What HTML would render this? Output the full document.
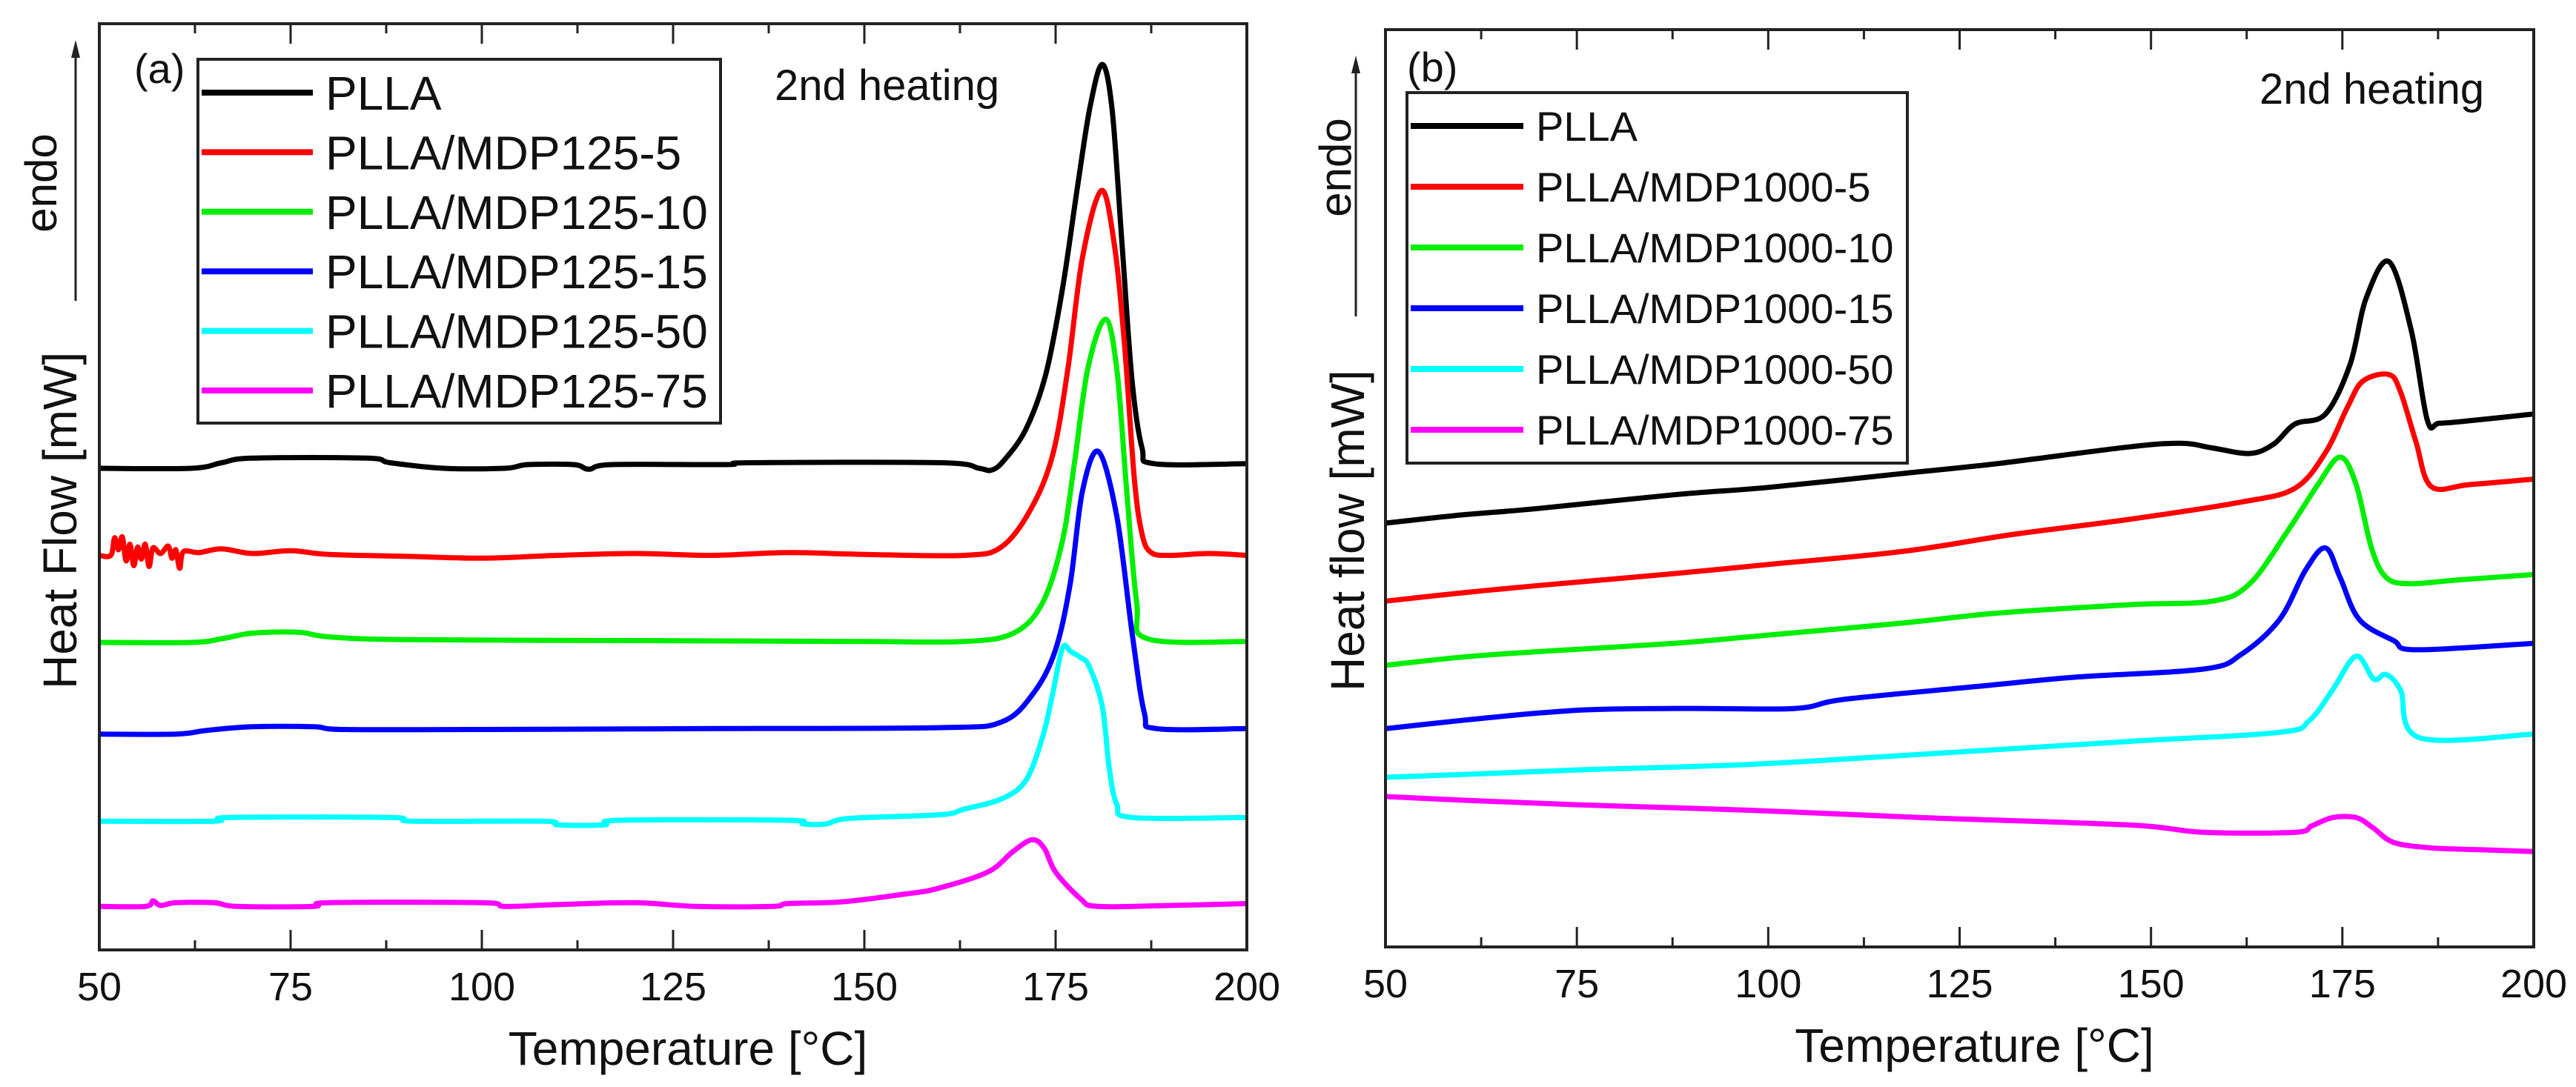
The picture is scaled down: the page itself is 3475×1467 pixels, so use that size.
<!DOCTYPE html>
<html><head><meta charset="utf-8"><style>
html,body{margin:0;padding:0;background:#fff}
svg{display:block}
text{font-family:"Liberation Sans",Arial,sans-serif;fill:#111}
</style></head><body>
<svg id="fig" width="3475" height="1467" viewBox="0 0 3475 1467" xmlns="http://www.w3.org/2000/svg">
<g id="pa"></g>
<g id="pb"></g>
</svg>
<script>
// ---------- data (temperature °C, heat flow arbitrary units 0-100) ----------
const xTicks = [50, 75, 100, 125, 150, 175, 200];
const seriesColors = ["#000000", "#ff0000", "#00ee00", "#0000ff", "#00ffff", "#ff00ff"];
const namesA = ["PLLA", "PLLA/MDP125-5", "PLLA/MDP125-10", "PLLA/MDP125-15", "PLLA/MDP125-50", "PLLA/MDP125-75"];
const namesB = ["PLLA", "PLLA/MDP1000-5", "PLLA/MDP1000-10", "PLLA/MDP1000-15", "PLLA/MDP1000-50", "PLLA/MDP1000-75"];

const a_PLLA = [[50,52.0],[62,52.0],[66,52.6],[70,53.1],[85,53.1],[88,52.6],[95,52.0],[103,52.0],[106,52.4],[112,52.4],[114,51.9],[117,52.4],[132,52.4],[135,52.6],[160,52.6],[165,52.0],[166.6,51.8],[168.2,52.8],[171.1,56.2],[173.7,62.1],[175.9,71.4],[177.9,82.6],[179.5,91],[181.1,95.6],[182.4,90.6],[183.7,76],[185,61.4],[186.3,54.2],[187.9,52.5],[200,52.5]];
const a_M5 = [[50,42.6],[51.5,42.6],[52,44.5],[52.5,43.2],[53,44.6],[53.5,42],[54,43.8],[54.5,41.5],[55,43.5],[55.5,42.2],[56,43.8],[56.5,41.4],[57,43.4],[58,42.8],[59,43.6],[59.5,42.3],[60,43.2],[60.5,41.2],[61,43],[63,42.9],[66,43.3],[70,42.8],[75,43.1],[80,42.7],[90,42.5],[100,42.3],[110,42.6],[120,42.8],[130,42.6],[140,42.9],[150,42.7],[163,42.6],[167.9,43.5],[171.7,47.5],[174.6,53.4],[176.6,62.7],[178.5,74.7],[181,82],[182.7,76],[184,65.4],[185.3,50.8],[186.3,44.9],[187.5,42.9],[190,42.6],[195,42.8],[200,42.6]];
const a_M10 = [[50,33.2],[62,33.2],[66,33.6],[70,34.2],[76,34.3],[80,33.8],[90,33.5],[120,33.4],[150,33.3],[163,33.3],[169.5,34.2],[173.3,37.5],[175.9,44.2],[177.5,52.8],[179.2,62.7],[181.5,68.1],[183,62.7],[184.3,49.5],[185.6,37.5],[187,33.6],[200,33.3]];
const a_M15 = [[50,23.3],[60,23.3],[64,23.7],[70,24.1],[78,24.1],[82,23.8],[100,23.8],[130,23.9],[160,24],[167.9,24.6],[172,27.6],[174.9,32.2],[176.9,39.5],[178.5,49.5],[180.6,53.8],[183,46.8],[185,34.2],[186.6,25.6],[188.2,23.9],[200,23.9]];
const a_M50 = [[50,13.9],[65,13.9],[67,14.3],[88,14.3],[91,13.9],[108,13.9],[110,13.5],[116,13.5],[118,14.0],[140,14.0],[142,13.6],[145,13.6],[148,14.2],[160,14.6],[163,15.2],[167.9,16.3],[171.1,18.3],[173.3,23],[174.6,27.6],[175.9,32.6],[177,32.2],[178.2,31.6],[179.4,30.6],[181.1,26.3],[182,19.7],[183,15.7],[185,14.3],[200,14.3]];
const a_M75 = [[50,4.7],[56,4.7],[57,5.3],[58,4.8],[60,5.1],[65,5.1],[68,4.7],[78,4.7],[80,5.1],[100,5.1],[103,4.7],[110,4.9],[120,5.1],[128,4.7],[138,4.7],[140,5.0],[147.2,5.2],[155,6],[159.4,6.6],[166.1,8.4],[169.4,10.6],[171.9,11.9],[173.5,11],[175,8.4],[178.3,5.5],[180.5,4.7],[190,4.8],[200,5.0]];

const b_PLLA = [[50,46.2],[60,47.1],[70,47.8],[87.7,49.3],[100,50.1],[117.4,51.6],[130,52.7],[147,54.5],[154,54.9],[158,54.4],[162.9,53.8],[166,54.8],[168.8,57],[172.8,58.1],[176,63.5],[178.1,70.7],[181.1,74.7],[184,67.2],[186.1,57.4],[187.7,57.1],[192,57.4],[200,58.1]];
const b_M5 = [[50,37.7],[60,38.6],[70,39.4],[87.7,40.7],[100,41.7],[117.4,43.1],[132.2,45],[147,46.6],[161.8,48.5],[168.8,50],[172.8,53.9],[175.7,58.9],[177.7,61.7],[181.1,62.4],[182.6,60.5],[184.6,55.1],[186.6,50.2],[191.6,50.4],[200,51]];
const b_M10 = [[50,30.7],[60,31.6],[70,32.2],[87.7,33.1],[100,34],[117.4,35.3],[130,36.4],[147,37.3],[158,37.7],[162.9,39.6],[167.9,45.4],[171.8,50.4],[174.7,53.4],[176.8,50.4],[178.8,43.5],[180.7,40.3],[183.7,39.6],[190,40],[200,40.6]];
const b_M15 = [[50,23.8],[60,24.7],[70,25.5],[77.9,25.9],[90,26],[103.5,26],[110,27],[127.3,28.4],[140,29.4],[156.9,30.3],[161.8,31.9],[166.8,35.7],[170.2,41.1],[172.8,43.5],[174.7,40.3],[177.2,35.7],[181.7,33.4],[184.6,32.4],[200,33.1]];
const b_M50 = [[50,18.5],[60,18.8],[75,19.3],[97.6,19.9],[120,21],[147,22.4],[166.8,23.4],[170.7,24.7],[173.7,28],[176.8,31.7],[179.1,29.2],[180.7,29.7],[182.6,28],[185.1,22.8],[200,23.2]];
const b_M75 = [[50,16.4],[60,16],[75,15.5],[97.6,14.9],[120,14.1],[147,13.3],[156.9,12.5],[168.8,12.5],[171,13.2],[173.7,14.1],[176.8,14.1],[179,13],[181.7,11.4],[186.6,10.8],[193,10.6],[200,10.4]];

const seriesA = [a_PLLA, a_M5, a_M10, a_M15, a_M50, a_M75];
const seriesB = [b_PLLA, b_M5, b_M10, b_M15, b_M50, b_M75];

const NS = "http://www.w3.org/2000/svg";
function mk(tag, attrs, parent){ const e=document.createElementNS(NS,tag); for(const k in attrs) e.setAttribute(k,attrs[k]); parent.appendChild(e); return e; }

function smoothPath(pts){
  let d = "M"+pts[0][0].toFixed(1)+" "+pts[0][1].toFixed(1);
  for(let i=0;i<pts.length-1;i++){
    const p0=pts[Math.max(0,i-1)], p1=pts[i], p2=pts[i+1], p3=pts[Math.min(pts.length-1,i+2)];
    const c1x=p1[0]+(p2[0]-p0[0])/6, c1y=p1[1]+(p2[1]-p0[1])/6;
    const c2x=p2[0]-(p3[0]-p1[0])/6, c2y=p2[1]-(p3[1]-p1[1])/6;
    d += " C"+c1x.toFixed(1)+" "+c1y.toFixed(1)+" "+c2x.toFixed(1)+" "+c2y.toFixed(1)+" "+p2[0].toFixed(1)+" "+p2[1].toFixed(1);
  }
  return d;
}

function panel(g, cfg, series, names){
  const sx = t => cfg.x0 + (t-50)/150*(cfg.x1-cfg.x0);
  const sy = v => cfg.yb - v/100*(cfg.yb-cfg.yt);
  series.forEach((s,i)=>{
    const d = smoothPath(s.map(p=>[sx(p[0]), sy(p[1])]));
    const p = mk("path",{d:d,fill:"none",stroke:seriesColors[i],"stroke-width":7,"stroke-linejoin":"round"},g);
    
    
  });
  const fr = mk("rect",{x:cfg.x0,y:cfg.yt,width:cfg.x1-cfg.x0,height:cfg.yb-cfg.yt,fill:"none",stroke:"#222","stroke-width":4},g);
  
  
  for(let t=50;t<=200;t+=12.5){
    const major = (t%25===0);
    const L = major?27:13;
    if(t===50||t===200) continue;
    const x=sx(t);
    const tb = mk("line",{x1:x,x2:x,y1:cfg.yb,y2:cfg.yb-L,stroke:"#222","stroke-width":3},g);
    
    
    const tt = mk("line",{x1:x,x2:x,y1:cfg.yt,y2:cfg.yt+L,stroke:"#222","stroke-width":3},g);
    
    
  }
  xTicks.forEach(t=>{
    const tx = mk("text",{x:sx(t),y:cfg.yb+68,"font-size":54,"text-anchor":"middle"},g);
    tx.textContent = t;
    
    
  });
  const xt = mk("text",{x:(cfg.x0+cfg.x1)/2+20,y:cfg.yb+155,"font-size":64,"text-anchor":"middle"},g);
  xt.textContent = "Temperature [°C]";
  
  
  const yt = mk("text",{x:0,y:0,"font-size":64,transform:`translate(${cfg.ytx},${cfg.yty}) rotate(-90)`},g);
  yt.textContent = cfg.ytitle;
  
  
  const en = mk("text",{x:0,y:0,"font-size":60,"text-anchor":"middle",transform:`translate(${cfg.endoX},${cfg.endoY}) rotate(-90)`},g);
  en.textContent = "endo";
  
  
  const ar = mk("line",{x1:cfg.arX,x2:cfg.arX,y1:cfg.arY1,y2:cfg.arY0+12,stroke:"#222","stroke-width":3},g);
  
  
  const ah = mk("polygon",{points:`${cfg.arX},${cfg.arY0} ${cfg.arX-6},${cfg.arY0+24} ${cfg.arX+6},${cfg.arY0+24}`,fill:"#222"},g);
  
  
  const pl = mk("text",{x:cfg.plX,y:cfg.plY,"font-size":56},g);
  pl.textContent = cfg.panelLabel;
  
  
  const hh = mk("text",{x:cfg.hX,y:cfg.hY,"font-size":58},g);
  hh.textContent = "2nd heating";
  
  
  const lg = mk("g",{},g);
  
  
  const lb = mk("rect",{x:cfg.lgX,y:cfg.lgY,width:cfg.lgW,height:cfg.lgH,fill:"#fff",stroke:"#222","stroke-width":4},lg);
  
  
  names.forEach((n,i)=>{
    const y = cfg.lgRow0 + i*cfg.lgStep;
    const ln = mk("line",{x1:cfg.lgX+5,x2:cfg.lgX+5+cfg.lgLine,y1:y,y2:y,stroke:seriesColors[i],"stroke-width":8},lg);
    
    
    const tx = mk("text",{x:cfg.lgX+cfg.lgLine+22,y:y+cfg.lgFont*0.36,"font-size":cfg.lgFont},lg);
    tx.textContent = n;
    
    
  });
}

panel(document.getElementById("pa"),{x0:134,x1:1682,yt:32,yb:1282,ytitle:"Heat Flow [mW]",ytx:103,yty:930,
  endoX:76,endoY:247,arX:102,arY0:54,arY1:406,panelLabel:"(a)",plX:181,plY:112,hX:1045,hY:135,
  lgX:267,lgY:80,lgW:705,lgH:491,lgRow0:125,lgStep:80.4,lgLine:150,lgFont:64},seriesA,namesA);
panel(document.getElementById("pb"),{x0:1869,x1:3418,yt:40,yb:1278,ytitle:"Heat flow [mW]",ytx:1840,yty:933,
  endoX:1822,endoY:226,arX:1829,arY0:75,arY1:427,panelLabel:"(b)",plX:1898,plY:110,hX:3048,hY:140,
  lgX:1898,lgY:125,lgW:675,lgH:500,lgRow0:170,lgStep:82,lgLine:152,lgFont:56},seriesB,namesB);
</script>
</body></html>
